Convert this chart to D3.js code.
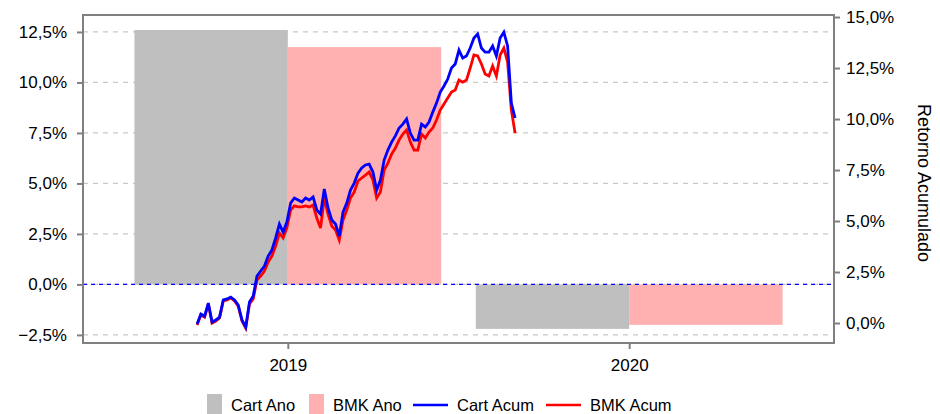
<!DOCTYPE html>
<html>
<head>
<meta charset="utf-8">
<script src="https://cdn.jsdelivr.net/npm/d3@7"></script>
<style>
  body { margin: 0; background: #fff; }
  svg { font-family: "Liberation Sans", Arial, sans-serif; }
</style>
</head>
<body>
<svg width="940" height="414"></svg>
<script>
// annual returns (left axis)
var years = [2019, 2020];
var cartAno = [12.6, -2.2];
var bmkAno = [11.75, -2.0];

// cumulative returns (right axis), one point every 4 days from 2018-09-26
var lineStart = Date.UTC(2018, 8, 26);
var cartAcum = [-0.05, 0.44, 0.34, 0.98, 0.05, 0.15, 0.29, 1.13, 1.18, 1.27,
  1.13, 0.88, 0.15, -0.20, 1.03, 1.32, 2.30, 2.55, 2.79, 3.28,
  3.58, 4.17, 4.85, 4.46, 4.95, 5.88, 6.13, 6.03, 5.93, 6.13,
  6.03, 6.18, 5.54, 5.34, 6.57, 5.64, 5.05, 4.85, 4.26, 5.44,
  5.88, 6.52, 6.86, 7.35, 7.60, 7.75, 7.79, 7.40, 6.52, 7.01,
  7.99, 8.48, 8.87, 9.17, 9.56, 9.75, 10.00, 9.31, 8.97, 8.97,
  9.75, 9.61, 9.85, 10.34, 10.78, 11.32, 11.62, 11.96, 12.50, 12.70,
  13.38, 12.99, 13.09, 13.48, 13.97, 14.17, 13.48, 13.28, 13.28, 13.58,
  13.09, 13.97, 14.26, 13.58, 10.78, 10.05];
var bmkAcum = [-0.10, 0.39, 0.29, 0.93, 0.00, 0.10, 0.25, 1.08, 1.13, 1.23,
  1.08, 0.83, 0.10, -0.25, 0.93, 1.18, 2.11, 2.30, 2.55, 2.99,
  3.28, 3.77, 4.41, 4.17, 4.66, 5.54, 5.74, 5.69, 5.69, 5.74,
  5.69, 5.78, 5.15, 4.66, 6.13, 5.34, 4.75, 4.56, 4.07, 5.05,
  5.54, 6.13, 6.42, 6.96, 7.11, 7.25, 7.40, 7.01, 6.13, 6.42,
  7.50, 7.84, 8.28, 8.58, 8.97, 9.26, 9.46, 8.87, 8.48, 8.48,
  9.26, 9.07, 9.36, 9.56, 9.95, 10.44, 10.74, 11.03, 11.32, 11.42,
  11.91, 11.81, 11.91, 12.50, 13.14, 13.09, 12.70, 12.21, 12.11, 12.60,
  12.11, 13.14, 13.48, 12.79, 10.44, 9.31];

var leftTicks = [-2.5, 0, 2.5, 5, 7.5, 10, 12.5];
var rightTicks = [0, 2.5, 5, 7.5, 10, 12.5, 15];

var svg = d3.select('svg');
var pLeft = 83, pRight = 834, pTop = 15, pBottom = 343;
var day = 864e5;

var x = d3.scaleUtc()
  .domain([Date.UTC(2018, 4, 27), Date.UTC(2020, 7, 7)])
  .range([pLeft, pRight]);
var yL = d3.scaleLinear().domain([-2.9, 13.34]).range([pBottom, pTop]);
var yR = d3.scaleLinear().domain([-0.98, 15.1]).range([pBottom, pTop]);

var fmt = function(v) { return d3.format('.1f')(v).replace('.', ',') + '%'; };
var halfW = 164 * day;

// grid
svg.append('g').selectAll('line')
  .data(leftTicks)
  .enter().append('line')
  .attr('x1', pLeft).attr('x2', pRight)
  .attr('y1', d => yL(d)).attr('y2', d => yL(d))
  .attr('stroke', '#c8c8c8').attr('stroke-width', 1.2)
  .attr('stroke-dasharray', '5,5');

// bars
var bars = svg.append('g');
bars.selectAll('rect.cart')
  .data(years)
  .enter().append('rect')
  .attr('x', d => x(Date.UTC(d, 0, 1) - halfW))
  .attr('width', d => x(Date.UTC(d, 0, 1)) - x(Date.UTC(d, 0, 1) - halfW))
  .attr('y', (d, i) => yL(Math.max(0, cartAno[i])))
  .attr('height', (d, i) => Math.abs(yL(cartAno[i]) - yL(0)))
  .attr('fill', '#bfbfbf');
bars.selectAll('rect.bmk')
  .data(years)
  .enter().append('rect')
  .attr('x', d => x(Date.UTC(d, 0, 1)))
  .attr('width', d => x(Date.UTC(d, 0, 1) + halfW) - x(Date.UTC(d, 0, 1)))
  .attr('y', (d, i) => yL(Math.max(0, bmkAno[i])))
  .attr('height', (d, i) => Math.abs(yL(bmkAno[i]) - yL(0)))
  .attr('fill', '#ffb0b0');

// zero line
svg.append('line')
  .attr('x1', pLeft).attr('x2', pRight)
  .attr('y1', yL(0)).attr('y2', yL(0))
  .attr('stroke', '#0000ff').attr('stroke-width', 1.2)
  .attr('stroke-dasharray', '4,4');

// cumulative lines
var line = d3.line()
  .x((d, i) => x(lineStart + i * 4 * day))
  .y(d => yR(d));
svg.append('path').datum(bmkAcum)
  .attr('d', line).attr('fill', 'none')
  .attr('stroke', '#ff0000').attr('stroke-width', 2.8);
svg.append('path').datum(cartAcum)
  .attr('d', line).attr('fill', 'none')
  .attr('stroke', '#0000ff').attr('stroke-width', 2.8);

// frame
svg.append('rect')
  .attr('x', pLeft).attr('y', pTop)
  .attr('width', pRight - pLeft).attr('height', pBottom - pTop)
  .attr('fill', 'none').attr('stroke', '#808080').attr('stroke-width', 2);

// axes
var axL = svg.append('g').attr('transform', 'translate(' + pLeft + ',0)')
  .call(d3.axisLeft(yL).tickValues(leftTicks).tickFormat(fmt).tickSize(6).tickPadding(10));
var axR = svg.append('g').attr('transform', 'translate(' + pRight + ',0)')
  .call(d3.axisRight(yR).tickValues(rightTicks).tickFormat(fmt).tickSize(6).tickPadding(6));
var axB = svg.append('g').attr('transform', 'translate(0,' + pBottom + ')')
  .call(d3.axisBottom(x).tickValues(years.map(d => new Date(Date.UTC(d, 0, 1))))
    .tickFormat(d3.utcFormat('%Y')).tickSize(6).tickPadding(10));

[axL, axR, axB].forEach(function(g) {
  g.select('.domain').remove();
  g.selectAll('.tick line').attr('stroke', '#808080').attr('stroke-width', 2);
  g.selectAll('.tick text').attr('fill', '#000')
    .style('font-size', '17px').style('font-family', '"Liberation Sans", Arial, sans-serif');
});

svg.append('text')
  .attr('transform', 'translate(918,183) rotate(90)')
  .attr('text-anchor', 'middle')
  .style('font-size', '18px')
  .text('Retorno Acumulado');

// legend
var legend = [
  { name: 'Cart Ano', type: 'rect', color: '#bfbfbf' },
  { name: 'BMK Ano', type: 'rect', color: '#ffb0b0' },
  { name: 'Cart Acum', type: 'line', color: '#0000ff' },
  { name: 'BMK Acum', type: 'line', color: '#ff0000' }
];
var legX = [207, 309, 413, 546];
var lg = svg.append('g').selectAll('g')
  .data(legend)
  .enter().append('g')
  .attr('transform', (d, i) => 'translate(' + legX[i] + ',0)');
lg.filter(d => d.type == 'rect').append('rect')
  .attr('x', 0).attr('y', 394).attr('width', 15).attr('height', 22)
  .attr('fill', d => d.color);
lg.filter(d => d.type == 'line').append('line')
  .attr('x1', 0).attr('x2', 35).attr('y1', 405).attr('y2', 405)
  .attr('stroke', d => d.color).attr('stroke-width', 2.5);
lg.append('text')
  .attr('x', d => d.type == 'rect' ? 24 : 44)
  .attr('y', 411)
  .style('font-size', '16.5px')
  .text(d => d.name);
</script>
</body>
</html>
